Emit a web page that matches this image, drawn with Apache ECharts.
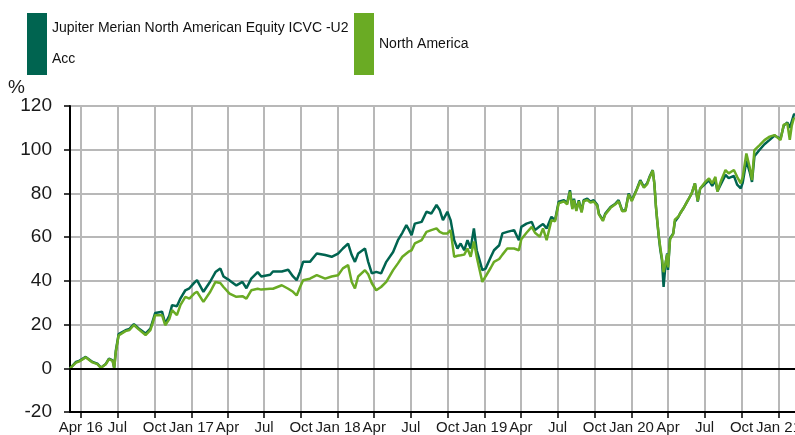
<!DOCTYPE html>
<html lang="en">
<head>
  <meta charset="utf-8">
  <title>Performance</title>
  <script src="https://cdn.jsdelivr.net/npm/echarts@6/dist/echarts.min.js"></script>
  <style>
    html, body { margin: 0; padding: 0; background: #fff; }
  </style>
</head>
<body>
<div id="chart" style="width: 795px;height:435px;"></div>
<script type="text/javascript">
// series names
var seriesNames = ['Jupiter Merian North American Equity ICVC -U2 Acc', 'North America'];

// dates of the points
var dates = [
  '2016-03-05','2016-03-20','2016-03-29','2016-04-13','2016-04-30','2016-05-12','2016-05-21','2016-06-02',
  '2016-06-10','2016-06-19','2016-06-23','2016-06-27','2016-07-04','2016-07-21','2016-07-31','2016-08-11',
  '2016-08-23','2016-09-09','2016-09-21','2016-10-03','2016-10-20','2016-10-28','2016-11-07','2016-11-14',
  '2016-11-26','2016-12-05','2016-12-17','2016-12-27','2017-01-08','2017-01-15','2017-01-31','2017-02-17',
  '2017-03-02','2017-03-14','2017-03-22','2017-04-06','2017-04-23','2017-05-08','2017-05-18','2017-05-30',
  '2017-06-15','2017-06-24','2017-07-16','2017-07-23','2017-08-14','2017-08-30','2017-09-11','2017-09-20',
  '2017-09-28','2017-10-06','2017-10-23','2017-11-09','2017-11-30','2017-12-16','2018-01-01','2018-01-13',
  '2018-01-26','2018-02-04','2018-02-12','2018-02-20','2018-03-09','2018-03-17','2018-03-26','2018-04-06',
  '2018-04-18','2018-05-01','2018-05-18','2018-05-30','2018-06-10','2018-06-20','2018-06-27','2018-07-03',
  '2018-07-11','2018-07-28','2018-08-09','2018-08-21','2018-09-03','2018-09-11','2018-09-19','2018-09-30',
  '2018-10-08','2018-10-17','2018-10-25','2018-11-02','2018-11-11','2018-11-19','2018-11-27','2018-12-05',
  '2018-12-12','2018-12-18','2018-12-26','2019-01-03','2019-01-16','2019-01-24','2019-02-06','2019-02-14',
  '2019-02-26','2019-03-15','2019-03-27','2019-04-02','2019-04-15','2019-04-28','2019-05-06','2019-05-18',
  '2019-05-26','2019-06-04','2019-06-16','2019-06-25','2019-07-04','2019-07-17','2019-07-25','2019-08-01',
  '2019-08-07','2019-08-11','2019-08-17','2019-08-23','2019-08-30','2019-09-04','2019-09-13','2019-09-21',
  '2019-09-29','2019-10-08','2019-10-12','2019-10-22','2019-10-28','2019-11-10','2019-11-22','2019-11-30',
  '2019-12-09','2019-12-17','2019-12-25','2020-01-02','2020-01-15','2020-01-23','2020-02-01','2020-02-09',
  '2020-02-15','2020-02-23','2020-02-27','2020-03-02','2020-03-05','2020-03-09','2020-03-13','2020-03-17',
  '2020-03-21','2020-03-26','2020-03-30','2020-04-01','2020-04-06','2020-04-14','2020-04-18','2020-04-27',
  '2020-05-01','2020-05-09','2020-05-21','2020-05-30','2020-06-07','2020-06-14','2020-06-20','2020-07-03',
  '2020-07-12','2020-07-20','2020-07-28','2020-08-02','2020-08-10','2020-08-22','2020-08-30','2020-09-12',
  '2020-09-20','2020-09-29','2020-10-04','2020-10-13','2020-10-21','2020-10-27','2020-11-02','2020-11-15',
  '2020-11-27','2020-12-10','2020-12-22','2021-01-06','2021-01-14','2021-01-23','2021-01-29','2021-02-03',
  '2021-02-08','2021-02-11'
];

// fund, cumulative %
var fundValues = [
  0, 2.9, 3.5, 5.2, 2.9, 2.1, 0.3, 2.0,
  4.4, 3.6, 0.3, 8.0, 15.6, 17.4, 18.0, 20.2,
  18.2, 15.9, 18.2, 25.3, 25.9, 20.5, 24.0, 28.9,
  28.4, 32.0, 35.7, 36.6, 39.1, 40.3, 35.0, 39.7,
  44.0, 45.7, 42.0, 40.2, 37.9, 39.5, 36.6, 41.0,
  44.0, 42.0, 42.8, 44.3, 44.3, 45.1, 42.0, 40.3,
  44.0, 48.7, 48.7, 52.5, 51.8, 51.0, 52.5, 54.8,
  57.0, 51.8, 48.7, 52.5, 54.8, 48.7, 43.4, 44.1,
  43.4, 48.7, 53.2, 58.6, 62.0, 65.5, 63.2, 60.9,
  66.2, 67.0, 71.6, 70.8, 74.7, 72.4, 67.8, 71.6,
  67.8, 58.6, 54.8, 57.1, 54.0, 58.6, 54.8, 64.0,
  54.0, 50.2, 44.9, 45.6, 50.9, 54.0, 56.3, 61.7,
  62.4, 63.2, 58.6, 64.7, 66.2, 67.0, 63.2, 65.0,
  66.0, 64.0, 69.3, 67.8, 76.2, 76.9, 75.5, 81.5,
  73.3, 77.6, 72.5, 76.9, 71.7, 76.9, 77.6, 76.2,
  76.9, 74.8, 70.8, 67.8, 70.8, 73.8, 75.3, 76.9,
  72.2, 72.2, 80.0, 76.9, 82.3, 86.1, 83.0, 84.6,
  87.6, 90.7, 84.6, 73.9, 67.8, 60.2, 54.0, 49.5,
  37.2, 48.0, 52.5, 45.0, 59.4, 61.7, 67.0, 69.3,
  70.8, 73.1, 77.0, 80.0, 84.6, 76.3, 82.2, 84.5,
  86.0, 83.5, 86.0, 81.0, 84.0, 88.5, 87.0, 88.0,
  84.0, 82.3, 85.0, 95.0, 90.0, 85.3, 97.0, 100.0,
  102.5, 104.5, 106.5, 105.0, 111.0, 112.5, 110.0, 113.0,
  115.9, 116.5
];

// index, cumulative %
var indexValues = [
  0, 2.6, 3.2, 5.0, 2.7, 1.9, 0.2, 1.8,
  4.2, 3.4, 0.0, 7.5, 15.0, 17.0, 17.5, 19.8,
  17.8, 15.2, 17.5, 24.3, 24.3, 19.7, 22.5, 26.6,
  24.3, 29.0, 32.7, 31.9, 34.2, 35.0, 30.4, 35.0,
  39.5, 39.0, 37.2, 34.2, 32.7, 33.0, 31.9, 35.7,
  36.4, 36.0, 36.4, 36.4, 38.0, 36.4, 35.0, 33.3,
  37.0, 40.3, 41.0, 42.6, 41.0, 42.0, 42.6, 45.7,
  47.2, 39.5, 36.5, 42.0, 44.9, 43.0, 38.9, 35.7,
  37.2, 39.5, 44.9, 48.0, 51.0, 52.5, 53.5, 54.0,
  57.1, 58.6, 62.4, 63.2, 64.0, 62.4, 61.7, 61.7,
  63.2, 51.0, 51.5, 51.7, 52.0, 54.8, 51.0, 58.0,
  51.0, 46.0, 39.5, 42.0, 46.0, 48.7, 50.0, 52.0,
  54.8, 54.8, 54.0, 59.0, 62.0, 64.7, 62.0, 60.2,
  64.0, 58.6, 67.8, 67.3, 75.5, 76.4, 75.0, 80.8,
  72.8, 77.0, 72.0, 76.4, 71.3, 76.4, 77.0, 75.8,
  76.3, 74.3, 70.4, 67.4, 70.4, 73.4, 75.0, 76.5,
  71.9, 72.0, 79.5, 76.5, 82.0, 85.6, 82.6, 84.2,
  87.2, 90.5, 84.5, 74.0, 68.0, 60.6, 55.0, 50.2,
  44.0, 48.3, 52.2, 46.2, 59.0, 61.5, 68.0, 69.5,
  70.8, 73.1, 77.0, 80.0, 84.6, 76.5, 82.2, 85.3,
  86.9, 84.6, 87.6, 80.8, 85.3, 90.7, 89.2, 90.7,
  87.6, 84.6, 87.6, 98.3, 92.2, 86.1, 99.8, 102.1,
  104.4, 106.0, 106.7, 104.4, 111.5, 112.0, 104.5, 111.0,
  114.4, 114.0
];

// quarter ticks on the x axis
var tickDates = [
  '2016-04-01','2016-07-01','2016-10-01','2017-01-01','2017-04-01','2017-07-01','2017-10-01',
  '2018-01-01','2018-04-01','2018-07-01','2018-10-01','2019-01-01','2019-04-01','2019-07-01',
  '2019-10-01','2020-01-01','2020-04-01','2020-07-01','2020-10-01','2021-01-01'
];
var tickLabels = [
  'Apr 16','Jul','Oct','Jan 17','Apr','Jul','Oct',
  'Jan 18','Apr','Jul','Oct','Jan 19','Apr','Jul',
  'Oct','Jan 20','Apr','Jul','Oct','Jan 21'
];

var yTicks = [-20, 0, 20, 40, 60, 80, 100, 120];

// date string -> ms, days counted in UTC
function toTime(s) {
  var p = s.split('-');
  return Date.UTC(+p[0], +p[1] - 1, +p[2]);
}

var tickTimes = tickDates.map(toTime);
var fundData = [], indexData = [];
for (var i = 0; i < dates.length; i++) {
  fundData.push([toTime(dates[i]), fundValues[i]]);
  indexData.push([toTime(dates[i]), indexValues[i]]);
}

var axisFont = "'Liberation Sans', Arial, sans-serif";

var legendText = { fontFamily: axisFont, fontSize: 14, lineHeight: 31, color: '#111' };

var myChart = echarts.init(document.getElementById('chart'));

var option = {
  animation: false,
  title: {
    text: '%',
    left: 8,
    top: 78,
    padding: 0,
    textStyle: { fontFamily: axisFont, fontSize: 19, fontWeight: 'normal', color: '#1a1a1a' }
  },
  // one legend box per item so each sits where the reference puts it
  legend: [
    {
      left: 27, top: 13, padding: 0,
      itemWidth: 20, itemHeight: 62, icon: 'rect',
      data: [seriesNames[0]],
      formatter: function (name) { return name.replace(' Acc', '\nAcc'); },
      textStyle: legendText
    },
    {
      left: 354, top: 13, padding: 0,
      itemWidth: 20, itemHeight: 62, icon: 'rect',
      data: [seriesNames[1]],
      textStyle: legendText
    }
  ],
  grid: { left: 70, right: 0, top: 106, bottom: 23, containLabel: false, outerBoundsMode: 'none' },
  xAxis: {
    type: 'value',
    min: toTime('2016-03-05'),
    max: toTime('2021-02-11'),
    axisLine: { onZero: false, lineStyle: { color: '#000', width: 2 } },
    axisTick: { customValues: tickTimes, length: 6, lineStyle: { color: '#000', width: 1.5 } },
    axisLabel: {
      customValues: tickTimes,
      margin: 8,
      fontFamily: axisFont,
      fontSize: 15,
      color: '#1a1a1a',
      hideOverlap: false,
      formatter: function (val) {
        var k = tickTimes.indexOf(val);
        return k >= 0 ? tickLabels[k] : '';
      }
    },
    splitLine: { show: true, lineStyle: { color: '#b8b8b8', width: 2 } }
  },
  yAxis: {
    type: 'value',
    min: yTicks[0],
    max: yTicks[yTicks.length - 1],
    interval: 20,
    axisLine: { show: true, lineStyle: { color: '#000', width: 2 } },
    axisTick: { show: true, length: 6, lineStyle: { color: '#000', width: 1.5 } },
    axisLabel: { margin: 18, fontFamily: axisFont, fontSize: 19, color: '#1a1a1a' },
    splitLine: { show: true, lineStyle: { color: '#b8b8b8', width: 2 } }
  },
  series: [
    {
      name: seriesNames[0],
      type: 'line',
      data: fundData,
      showSymbol: false,
      symbol: 'none',
      color: '#006450',
      itemStyle: { color: '#006450' },
      lineStyle: { color: '#006450', width: 2.5 },
      markLine: {
        silent: true,
        symbol: 'none',
        label: { show: false },
        lineStyle: { color: '#000', width: 2, type: 'solid' },
        data: [{ yAxis: 0 }]
      }
    },
    {
      name: seriesNames[1],
      type: 'line',
      data: indexData,
      showSymbol: false,
      symbol: 'none',
      color: '#6aab24',
      itemStyle: { color: '#6aab24' },
      lineStyle: { color: '#6aab24', width: 2.5 }
    }
  ]
};

myChart.setOption(option);
</script>
</body>
</html>
